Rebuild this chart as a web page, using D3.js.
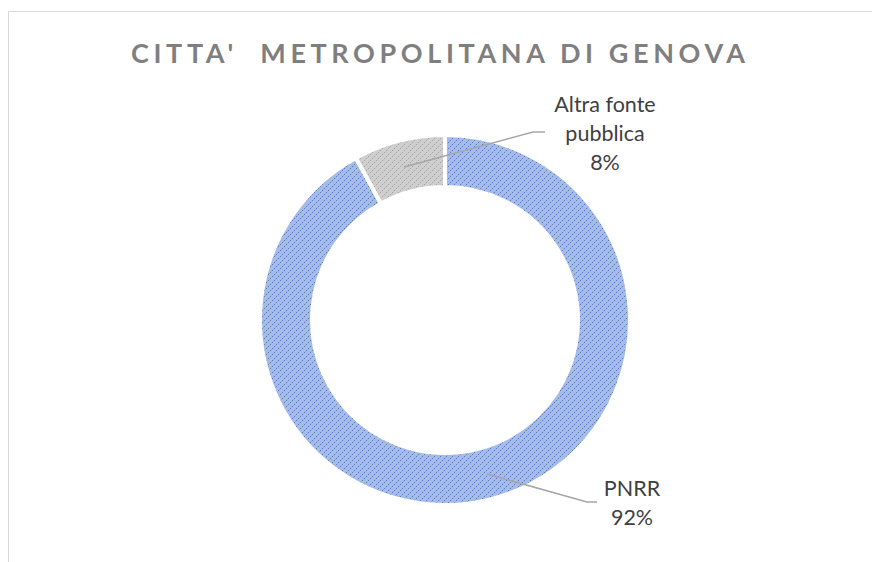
<!DOCTYPE html>
<html>
<head>
<meta charset="utf-8">
<script src="https://cdn.jsdelivr.net/npm/d3@7"></script>
<style>
  body { margin: 0; background: #fff; }
  svg text { font-family: Lato, "Open Sans", sans-serif; }
</style>
</head>
<body>
<script>
// data
var labels = ["PNRR", "Altra fonte pubblica"];
var values = [92, 8];
var labelLines = [["PNRR", "92%"], ["Altra fonte", "pubblica", "8%"]];
var title = "CITTA'  METROPOLITANA DI GENOVA";

var width = 872, height = 562;
var cx = 445, cy = 320, rOut = 185, rIn = 133;

var svg = d3.select("body").append("svg")
    .attr("width", width)
    .attr("height", height);

// chart frame
svg.append("path")
    .attr("d", "M8.5," + height + "V11.5H" + width)
    .attr("fill", "none")
    .attr("stroke", "#d9d9d9")
    .attr("stroke-width", 1);

var defs = svg.append("defs");

// fill styles: background, stripe, edge shade
var styles = [
  {bg: "#e8eef9", fg: "#4a76c6", edge: "#4472c4"},
  {bg: "#f2f2f2", fg: "#a3a3a3", edge: "#9a9a9a"}
];

styles.forEach(function(s, i) {
  var p = defs.append("pattern")
      .attr("id", "pat" + i)
      .attr("patternUnits", "userSpaceOnUse")
      .attr("width", 6).attr("height", 6);
  p.append("rect").attr("width", 6).attr("height", 6).attr("fill", s.bg);
  p.append("path")
      .attr("d", "M-1,7L7,-1M-1,1L1,-1M5,7L7,5")
      .attr("stroke", s.fg)
      .attr("stroke-width", 0.95)
      .attr("stroke-dasharray", "1.6,1.1");

  var g = defs.append("radialGradient")
      .attr("id", "shade" + i)
      .attr("gradientUnits", "userSpaceOnUse")
      .attr("cx", cx).attr("cy", cy).attr("r", rOut);
  var f = rIn / rOut;
  [[f, 0.4], [f + 0.04, 0.12], [f + 0.09, 0], [0.94, 0], [0.985, 0.22], [1, 0.4]].forEach(function(st) {
    g.append("stop")
        .attr("offset", st[0])
        .attr("stop-color", s.edge)
        .attr("stop-opacity", st[1]);
  });
});

var pie = d3.pie().sort(null)(values);
var arc = d3.arc().innerRadius(rIn).outerRadius(rOut);

var donut = svg.append("g").attr("transform", "translate(" + cx + "," + cy + ")");

donut.selectAll("path.base")
    .data(pie)
    .enter().append("path")
      .attr("class", "base")
      .attr("d", arc)
      .attr("fill", function(d, i) { return "url(#pat" + i + ")"; });

donut.selectAll("path.shade")
    .data(pie)
    .enter().append("path")
      .attr("class", "shade")
      .attr("d", arc)
      .attr("fill", function(d, i) { return "url(#shade" + i + ")"; })
      .attr("stroke", "#fff")
      .attr("stroke-width", 4)
      .attr("stroke-linejoin", "miter");

// title
svg.append("text")
    .attr("x", 131)
    .attr("y", 63)
    .attr("textLength", 614)
    .attr("lengthAdjust", "spacing")
    .attr("font-size", 27)
    .attr("font-weight", "bold")
    .attr("fill", "#7f7f7f")
    .style("white-space", "pre")
    .text(title);

// data labels with leader lines
var labelPos = [
  {x: 632, y: 496, line: [[487, 474], [587, 502], [597, 502]]},
  {x: 605, y: 112, line: [[404, 167], [533, 132], [545, 132]]}
];

labelPos.forEach(function(lp, i) {
  svg.append("path")
      .attr("d", d3.line()(lp.line))
      .attr("fill", "none")
      .attr("stroke", "#a6a6a6")
      .attr("stroke-width", 1.5);

  var t = svg.append("text")
      .attr("text-anchor", "middle")
      .attr("font-size", 21.5)
      .attr("fill", "#404040");
  labelLines[i].forEach(function(s, j) {
    t.append("tspan")
        .attr("x", lp.x)
        .attr("y", lp.y + j * 29)
        .text(s);
  });
});
</script>
</body>
</html>
